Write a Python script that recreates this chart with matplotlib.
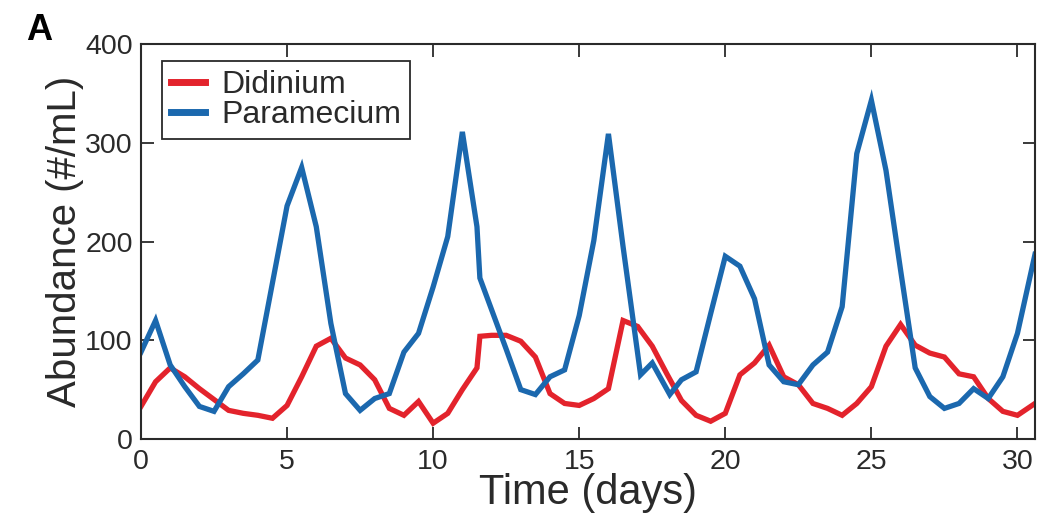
import matplotlib
matplotlib.use("Agg")
import matplotlib.pyplot as plt

plt.rcParams['font.family'] = ['Liberation Sans', 'DejaVu Sans']

# data (days, #/mL)
t_did = [0, 0.5, 1, 1.5, 2, 2.5, 3, 3.5, 4, 4.5, 5, 5.5, 6, 6.5, 7, 7.5, 8, 8.5,
         9, 9.5, 10, 10.5, 11, 11.5, 11.6, 12, 12.5, 13, 13.5, 14, 14.5, 15, 15.5,
         16, 16.5, 17, 17.5, 18, 18.5, 19, 19.5, 20, 20.5, 21, 21.5, 22, 22.5, 23,
         23.5, 24, 24.5, 25, 25.5, 26, 26.5, 27, 27.5, 28, 28.5, 29, 29.5, 30, 30.6]
didinium = [33, 58, 72, 63, 51, 40, 29, 26, 24, 21, 34, 63, 94, 102, 82, 75, 60, 31,
            24, 38, 16, 26, 50, 72, 104, 105, 105, 99, 83, 46, 36, 34, 41,
            51, 120, 114, 94, 66, 39, 24, 18, 26, 65, 77, 95, 63, 55, 36,
            31, 24, 36, 53, 94, 116, 95, 87, 83, 66, 63, 41, 28, 24, 36]

t_par = [0, 0.5, 1, 1.5, 2, 2.5, 3, 3.5, 4, 4.5, 5, 5.5, 6, 6.5, 7, 7.5, 8, 8.5,
         9, 9.5, 10, 10.5, 11, 11.5, 11.6, 12, 12.5, 13, 13.5, 14, 14.5, 15, 15.5,
         16, 16.5, 17.1, 17.5, 18.1, 18.5, 19, 19.5, 20, 20.5, 21, 21.5, 22, 22.5, 23,
         23.5, 24, 24.5, 25, 25.5, 26, 26.5, 27, 27.5, 28, 28.5, 29, 29.5, 30, 30.6]
paramecium = [88, 120, 75, 53, 33, 28, 53, 66, 80, 158, 236, 275, 215, 117, 46, 29, 41, 46,
              88, 107, 154, 205, 311, 215, 163, 131, 91, 50, 45, 63, 70, 125, 201,
              309, 195, 65, 77, 45, 60, 68, 127, 185, 175, 142, 75, 58, 55, 75,
              88, 134, 289, 343, 272, 171, 72, 43, 31, 36, 51, 41, 63, 107, 187]

red = '#e3232c'
blue = '#1b68ae'
dark = '#2a2a2a'

fig = plt.figure(figsize=(10.56, 5.14), dpi=100)
ax = fig.add_axes([0.1335, 0.1459, 0.8466, 0.7685])

ax.plot(t_did, didinium, color=red, lw=3.8, label='Didinium', solid_joinstyle='miter')
ax.plot(t_par, paramecium, color=blue, lw=3.8, label='Paramecium', solid_joinstyle='miter')

ax.set_xlim(0, 30.6)
ax.set_ylim(0, 400)
ax.set_xticks([0, 5, 10, 15, 20, 25, 30])
ax.set_yticks([0, 100, 200, 300, 400])
ax.tick_params(direction='in', length=9, width=1.3, top=True, right=True,
               labelsize=20.5, colors=dark, pad=6)
ax.tick_params(axis='x', pad=7)
for s in ax.spines.values():
    s.set_linewidth(1.5)
    s.set_color(dark)

ax.set_xlabel('Time (days)', fontsize=30, color=dark, labelpad=-1)
ax.set_ylabel('Abundance (#/mL)', fontsize=29, color=dark, labelpad=1)

leg = ax.legend(loc='upper left', bbox_to_anchor=(0.024, 0.957), borderaxespad=0,
                fontsize=23, handlelength=1.05, handletextpad=0.5, labelspacing=0.0,
                borderpad=0.28, fancybox=False, framealpha=1)
leg.get_frame().set_edgecolor(dark)
leg.get_frame().set_linewidth(1.3)
for line in leg.get_lines():
    line.set_linewidth(5)
for txt in leg.get_texts():
    txt.set_color(dark)

fig.text(0.025, 0.922, 'A', fontsize=26, fontweight='bold', color='black')

fig.savefig('out.png', dpi=100)
